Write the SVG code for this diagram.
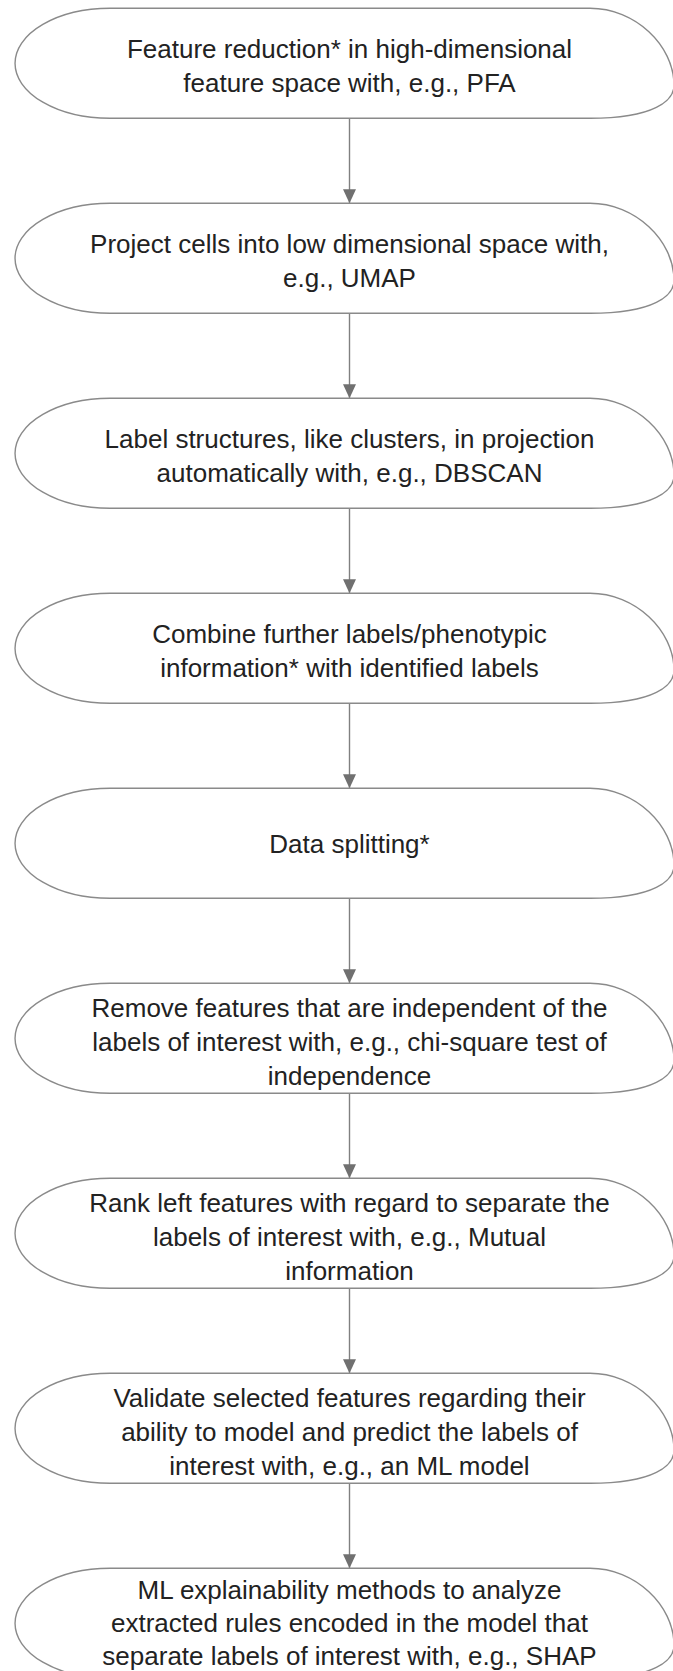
<svg xmlns="http://www.w3.org/2000/svg" xmlns:xlink="http://www.w3.org/1999/xlink" width="673" height="1671" viewBox="0 0 673 1671">
<style>
.node{fill:#fff;stroke:#8a8a8a;stroke-width:1.4}
.t{font-family:"Liberation Sans",Arial,Helvetica,sans-serif;font-size:26px;fill:#222;text-anchor:middle}
.edge{stroke:#808080;stroke-width:1.4;fill:none}
</style>
<defs>
<path id="pill" d="M110,0 H590 C635,0 674,37 674,77 C674,92 655,110 590,110 H110 A95,55 0 0 1 110,0 Z"/>
<marker id="ah" markerUnits="userSpaceOnUse" markerWidth="14" markerHeight="14" refX="14" refY="6.5" orient="auto">
<path d="M0,0 L14,6.5 L0,13 Z" fill="#707070"/>
</marker>
</defs>
<rect width="673" height="1671" fill="#fff"/>
<g id="connectors">
<line class="edge" x1="349.5" y1="118.3" x2="349.5" y2="203.3" marker-end="url(#ah)"/>
<line class="edge" x1="349.5" y1="313.3" x2="349.5" y2="398.3" marker-end="url(#ah)"/>
<line class="edge" x1="349.5" y1="508.3" x2="349.5" y2="593.3" marker-end="url(#ah)"/>
<line class="edge" x1="349.5" y1="703.3" x2="349.5" y2="788.3" marker-end="url(#ah)"/>
<line class="edge" x1="349.5" y1="898.3" x2="349.5" y2="983.3" marker-end="url(#ah)"/>
<line class="edge" x1="349.5" y1="1093.3" x2="349.5" y2="1178.3" marker-end="url(#ah)"/>
<line class="edge" x1="349.5" y1="1288.3" x2="349.5" y2="1373.3" marker-end="url(#ah)"/>
<line class="edge" x1="349.5" y1="1483.3" x2="349.5" y2="1568.3" marker-end="url(#ah)"/>
</g>
<g id="n1">
<use xlink:href="#pill" href="#pill" class="node" transform="translate(0,8.3)"/>
<text class="t" x="349.5" y="57.8"><tspan x="349.5">Feature reduction* in high-dimensional</tspan><tspan x="349.5" dy="34">feature space with, e.g., PFA</tspan></text>
</g>
<g id="n2">
<use xlink:href="#pill" href="#pill" class="node" transform="translate(0,203.3)"/>
<text class="t" x="349.5" y="252.8"><tspan x="349.5">Project cells into low dimensional space with,</tspan><tspan x="349.5" dy="34">e.g., UMAP</tspan></text>
</g>
<g id="n3">
<use xlink:href="#pill" href="#pill" class="node" transform="translate(0,398.3)"/>
<text class="t" x="349.5" y="447.8"><tspan x="349.5">Label structures, like clusters, in projection</tspan><tspan x="349.5" dy="34">automatically with, e.g., DBSCAN</tspan></text>
</g>
<g id="n4">
<use xlink:href="#pill" href="#pill" class="node" transform="translate(0,593.3)"/>
<text class="t" x="349.5" y="642.8"><tspan x="349.5">Combine further labels/phenotypic</tspan><tspan x="349.5" dy="34">information* with identified labels</tspan></text>
</g>
<g id="n5">
<use xlink:href="#pill" href="#pill" class="node" transform="translate(0,788.3)"/>
<text class="t" x="349.5" y="853">Data splitting*</text>
</g>
<g id="n6">
<use xlink:href="#pill" href="#pill" class="node" transform="translate(0,983.3)"/>
<text class="t" x="349.5" y="1017.3"><tspan x="349.5">Remove features that are independent of the</tspan><tspan x="349.5" dy="34">labels of interest with, e.g., chi-square test of</tspan><tspan x="349.5" dy="34">independence</tspan></text>
</g>
<g id="n7">
<use xlink:href="#pill" href="#pill" class="node" transform="translate(0,1178.3)"/>
<text class="t" x="349.5" y="1212.3"><tspan x="349.5">Rank left features with regard to separate the</tspan><tspan x="349.5" dy="34">labels of interest with, e.g., Mutual</tspan><tspan x="349.5" dy="34">information</tspan></text>
</g>
<g id="n8">
<use xlink:href="#pill" href="#pill" class="node" transform="translate(0,1373.3)"/>
<text class="t" x="349.5" y="1407.3"><tspan x="349.5">Validate selected features regarding their</tspan><tspan x="349.5" dy="34">ability to model and predict the labels of</tspan><tspan x="349.5" dy="34">interest with, e.g., an ML model</tspan></text>
</g>
<g id="n9">
<use xlink:href="#pill" href="#pill" class="node" transform="translate(0,1568.3)"/>
<text class="t" x="349.5" y="1599"><tspan x="349.5">ML explainability methods to analyze</tspan><tspan x="349.5" dy="33">extracted rules encoded in the model that</tspan><tspan x="349.5" dy="33">separate labels of interest with, e.g., SHAP</tspan></text>
</g>
</svg>
